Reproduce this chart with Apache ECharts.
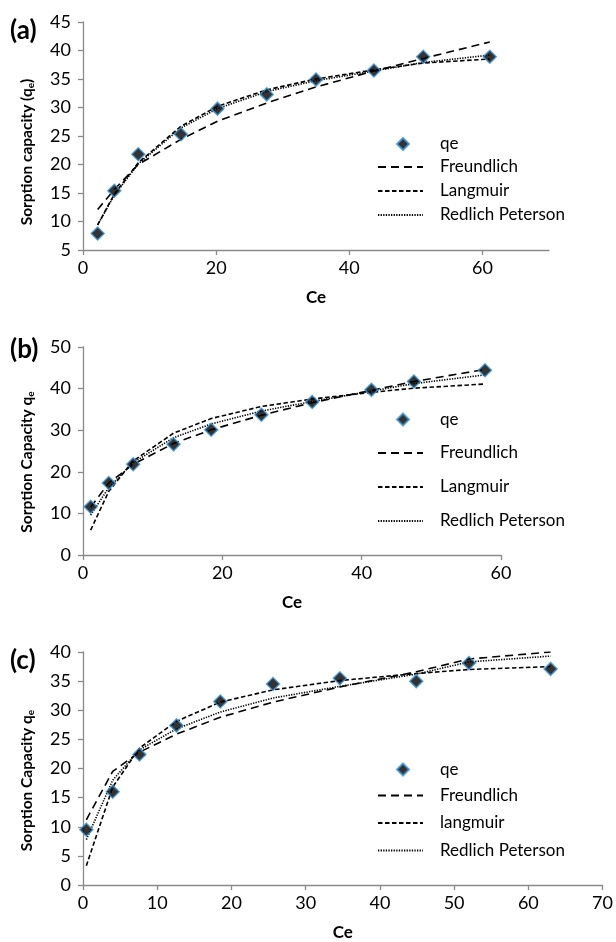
<!DOCTYPE html>
<html>
<head>
<meta charset="utf-8">
<script src="https://cdn.jsdelivr.net/npm/echarts@6/dist/echarts.min.js"></script>
<style>
  html, body { margin: 0; padding: 0; background: #fff; }
  #chart { width: 616px; height: 942px; }
</style>
</head>
<body>
<div id="chart"></div>
<script>
// (a)
const ceA = [2.2, 4.7, 8.3, 14.7, 20.2, 27.6, 35.0, 43.7, 51.1, 61.1]
const qeA = [7.9, 15.4, 21.8, 25.3, 29.8, 32.3, 34.9, 36.5, 38.9, 38.9]
const freundA = [12.1, 15.6, 20.0, 24.4, 27.6, 30.8, 33.6, 36.4, 38.6, 41.5]
const langA = [9.4, 14.8, 20.3, 26.7, 30.2, 33.1, 35.0, 36.6, 37.8, 38.5]
const rpA = [9.4, 14.6, 20.1, 26.4, 29.8, 32.8, 34.7, 36.4, 37.9, 39.2]

// (b)
const ceB = [1.1, 3.7, 7.2, 13.0, 18.4, 25.6, 32.9, 41.4, 47.5, 57.7]
const qeB = [11.6, 17.3, 21.8, 26.6, 30.1, 33.7, 36.8, 39.7, 41.7, 44.4]
const freundB = [11.5, 17.3, 21.8, 26.8, 30.1, 33.6, 36.6, 39.6, 41.7, 44.6]
const langB = [6.0, 15.3, 22.6, 29.3, 32.8, 35.7, 37.5, 39.1, 40.1, 41.1]
const rpB = [9.6, 16.2, 22.2, 28.2, 31.5, 34.6, 36.9, 39.4, 41.2, 43.3]

// (c)
const ceC = [0.45, 4.0, 7.6, 12.6, 18.5, 25.6, 34.6, 44.9, 52.0, 63.0]
const qeC = [9.5, 16.0, 22.4, 27.4, 31.5, 34.5, 35.5, 35.0, 38.1, 37.1]
const freundC = [11.2, 19.5, 22.8, 25.9, 28.8, 31.4, 34.0, 36.6, 38.8, 40.0]
const langC = [3.3, 16.8, 23.5, 28.1, 31.4, 33.5, 35.1, 36.3, 37.0, 37.5]
const rpC = [7.8, 18.0, 23.2, 26.8, 29.7, 32.1, 34.1, 36.2, 38.3, 39.3]

const xTicksA = [0, 20, 40, 60]
const xTicksB = [0, 20, 40, 60]
const fitNamesA = ['Freundlich', 'Langmuir', 'Redlich Peterson']
const fitNamesB = ['Freundlich', 'Langmuir', 'Redlich Peterson']
const fitNamesC = ['Freundlich', 'langmuir', 'Redlich Peterson']

const font = 'Lato'
const axisGray = '#8a8a8a'

const pairs = (xs, ys) => xs.map((x, i) => [x, ys[i]])

const makeX = (idx, min, max, interval, ticks) => {
  const ax = {
    gridIndex: idx,
    type: 'value',
    min, max, interval,
    name: 'Ce',
    nameLocation: 'middle',
    nameGap: 39,
    nameTextStyle: { fontFamily: font, fontWeight: 'bold', fontSize: 17, color: '#000' },
    axisLine: { show: true, lineStyle: { color: axisGray, width: 1.3 } },
    axisTick: { show: true, length: 5, lineStyle: { color: axisGray, width: 1.3 } },
    axisLabel: { fontFamily: font, fontSize: 18, color: '#000', margin: 9 },
    splitLine: { show: false }
  }
  if (ticks) {
    ax.axisTick.customValues = ticks
    ax.axisLabel.customValues = ticks
  }
  return ax
}

const makeY = (idx, min, max, interval, name, shift) => ({
  gridIndex: idx,
  type: 'value',
  min, max, interval,
  name,
  nameLocation: 'middle',
  nameRotate: 90,
  nameGap: 47,
  nameTextStyle: {
    fontFamily: font, fontWeight: 'bold', fontSize: 15.5, color: '#000',
    lineHeight: 18,
    padding: [0, shift, 0, 0],
    rich: {
      s: { fontFamily: font, fontWeight: 'bold', fontSize: 10, color: '#000', lineHeight: 18, verticalAlign: 'bottom', padding: [4, 0, 0, 0] }
    }
  },
  axisLine: { show: true, lineStyle: { color: axisGray, width: 1.3 } },
  axisTick: { show: true, length: 5, lineStyle: { color: axisGray, width: 1.3 } },
  axisLabel: { fontFamily: font, fontSize: 18, color: '#000', margin: 12 },
  splitLine: { show: false }
})

const scatter = (name, idx, xs, ys) => ({
  name,
  type: 'scatter',
  xAxisIndex: idx,
  yAxisIndex: idx,
  data: pairs(xs, ys),
  symbol: 'diamond',
  symbolSize: 13,
  itemStyle: { color: '#000', borderColor: '#3b93d6', borderWidth: 1.5 },
  z: 5
})

const fitLine = (name, idx, xs, ys, dash) => ({
  name,
  type: 'line',
  xAxisIndex: idx,
  yAxisIndex: idx,
  data: pairs(xs, ys),
  symbol: 'none',
  showSymbol: false,
  itemStyle: { color: '#000', opacity: 0 },
  lineStyle: { color: '#000', width: 1.6, type: dash }
})

const longDash = [8, 5]
const shortDash = [4.5, 2.5]
const dotted = [1.3, 1.3]

const legendText = pad => ({ fontFamily: font, fontSize: 17, color: '#000', lineHeight: 16, padding: [0, 0, 0, pad] })

// diamond gets its own legend so it is not stretched to the line icon width
const markerLegend = top => ({
  data: [{ name: 'qe', icon: 'diamond' }],
  left: 396,
  top,
  padding: 0,
  itemWidth: 12,
  itemHeight: 12,
  textStyle: legendText(26),
  selectedMode: false
})

const lineLegend = (names, top, gap) => ({
  data: names.map(name => ({ name, itemStyle: { opacity: 0 } })),
  orient: 'vertical',
  left: 377,
  top,
  padding: 0,
  itemGap: gap,
  itemWidth: 45,
  itemHeight: 12,
  textStyle: legendText(12),
  selectedMode: false
})

const chart = echarts.init(document.getElementById('chart'))

const option = {
  animation: false,
  backgroundColor: '#fff',
  title: [
    { text: '(a)', left: 5, top: 13, textStyle: { fontFamily: font, fontWeight: 'bold', fontSize: 26, color: '#000' } },
    { text: '(b)', left: 5, top: 332, textStyle: { fontFamily: font, fontWeight: 'bold', fontSize: 26, color: '#000' } },
    { text: '(c)', left: 5, top: 643, textStyle: { fontFamily: font, fontWeight: 'bold', fontSize: 26, color: '#000' } }
  ],
  grid: [
    { left: 83, top: 22, width: 466, height: 228 },
    { left: 83, top: 347, width: 418, height: 208 },
    { left: 83, top: 652, width: 520, height: 236 }
  ],
  xAxis: [
    makeX(0, 0, 70, 20, xTicksA),
    makeX(1, 0, 60, 20, xTicksB),
    makeX(2, 0, 70, 10)
  ],
  yAxis: [
    makeY(0, 5, 45, 5, 'Sorption capacity (q{s|e})', 32),
    makeY(1, 0, 50, 10, 'Sorption Capacity q{s|e}', 22),
    makeY(2, 0, 40, 5, 'Sorption Capacity q{s|e}', 24)
  ],
  legend: [
    markerLegend(135.5),
    lineLegend(fitNamesA, 158.5, 7),
    markerLegend(411),
    lineLegend(fitNamesB, 444.5, 17),
    markerLegend(761),
    lineLegend(fitNamesC, 787, 10.5)
  ],
  series: [
    fitLine('Freundlich', 0, ceA, freundA, longDash),
    fitLine('Langmuir', 0, ceA, langA, shortDash),
    fitLine('Redlich Peterson', 0, ceA, rpA, dotted),
    scatter('qe', 0, ceA, qeA),

    fitLine('Freundlich', 1, ceB, freundB, longDash),
    fitLine('Langmuir', 1, ceB, langB, shortDash),
    fitLine('Redlich Peterson', 1, ceB, rpB, dotted),
    scatter('qe', 1, ceB, qeB),

    fitLine('Freundlich', 2, ceC, freundC, longDash),
    fitLine('langmuir', 2, ceC, langC, shortDash),
    fitLine('Redlich Peterson', 2, ceC, rpC, dotted),
    scatter('qe', 2, ceC, qeC)
  ]
}

chart.setOption(option)
</script>
</body>
</html>
